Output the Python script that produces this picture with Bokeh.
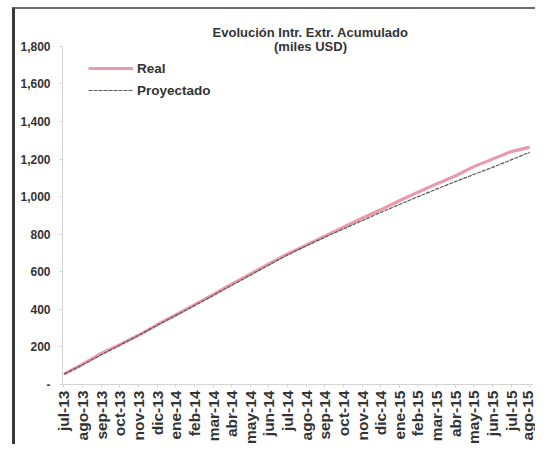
from bokeh.plotting import figure
from bokeh.models import FixedTicker, NumeralTickFormatter, Range1d, Legend, LegendItem, Label, InlineStyleSheet
from bokeh.embed import file_html
from bokeh.resources import INLINE
import math

months = ["jul-13", "ago-13", "sep-13", "oct-13", "nov-13", "dic-13", "ene-14", "feb-14",
          "mar-14", "abr-14", "may-14", "jun-14", "jul-14", "ago-14", "sep-14", "oct-14",
          "nov-14", "dic-14", "ene-15", "feb-15", "mar-15", "abr-15", "may-15", "jun-15",
          "jul-15", "ago-15"]
real = [55, 108, 165, 212, 262, 318, 370, 424, 478, 534, 588, 642, 695, 742, 790, 838,
        885, 930, 978, 1024, 1068, 1110, 1160, 1200, 1240, 1264]
proyectado = [55, 105, 158, 210, 262, 315, 368, 420, 474, 528, 582, 636, 690, 738, 784, 828,
              872, 916, 958, 1000, 1040, 1080, 1118, 1156, 1196, 1236]
y_ticks = [0, 200, 400, 600, 800, 1000, 1200, 1400, 1600, 1800]

FONT = "Liberation Sans"
idx = list(range(len(months)))

box = InlineStyleSheet(css=":host { margin-left: 12px; margin-top: 7px; "
                           "border-left: 3px solid #3a3a3a; border-top: 2px solid #6a6a6a; }")

p = figure(width=523, height=437, output_backend="svg", toolbar_location=None,
           x_range=Range1d(-0.08, 25.15), y_range=Range1d(0, 1938),
           min_border_left=47, min_border_right=6, min_border_top=11, min_border_bottom=0,
           stylesheets=[box])
p.outline_line_color = None
p.xgrid.grid_line_color = None
p.ygrid.grid_line_color = None

r_real = p.line(idx, real, line_color="#e99aac", line_width=3.2)
r_proj = p.line(idx, proyectado, line_color="#5a5a5a", line_width=1.2, line_dash="4 1")

# axes
p.yaxis.ticker = FixedTicker(ticks=y_ticks)
p.yaxis.formatter = NumeralTickFormatter(format="0,0")
p.yaxis.major_label_overrides = {0: "-"}
p.yaxis.bounds = (0, 1800)
p.xaxis.ticker = FixedTicker(ticks=idx)
p.xaxis.major_label_overrides = {i: m for i, m in enumerate(months)}
p.xaxis.major_label_orientation = math.pi / 2
for ax in (p.xaxis[0], p.yaxis[0]):
    ax.axis_line_color = "#d4d4d4"
    ax.major_tick_line_color = "#d4d4d4"
    ax.minor_tick_line_color = None
    ax.major_tick_in = 0
    ax.major_tick_out = 3
    ax.major_label_text_font = FONT
    ax.major_label_text_font_style = "bold"
    ax.major_label_text_color = "#333333"
p.yaxis.major_label_text_font_size = "12px"
p.yaxis.major_label_standoff = 9
p.xaxis.major_label_text_font_size = "15.5px"
p.xaxis.major_label_standoff = 3

# legend
legend = Legend(items=[LegendItem(label="Real", renderers=[r_real]),
                       LegendItem(label="Proyectado", renderers=[r_proj])],
                location=(26, 284), padding=0, margin=0, spacing=2,
                glyph_width=45, glyph_height=20, label_standoff=4,
                background_fill_alpha=0, border_line_alpha=0,
                label_text_font=FONT, label_text_font_style="bold",
                label_text_font_size="13.5px", label_text_color="#333333")
p.add_layout(legend)

# title
p.add_layout(Label(x=248, y=352, x_units="screen", y_units="screen",
                   text="Evolución Intr. Extr. Acumulado", text_align="center",
                   text_baseline="middle", text_font=FONT, text_font_style="bold",
                   text_font_size="13px", text_color="#333333"))
p.add_layout(Label(x=248, y=338, x_units="screen", y_units="screen",
                   text="(miles USD)", text_align="center",
                   text_baseline="middle", text_font=FONT, text_font_style="bold",
                   text_font_size="13px", text_color="#333333"))

open("out.html", "w").write(file_html(p, INLINE))
